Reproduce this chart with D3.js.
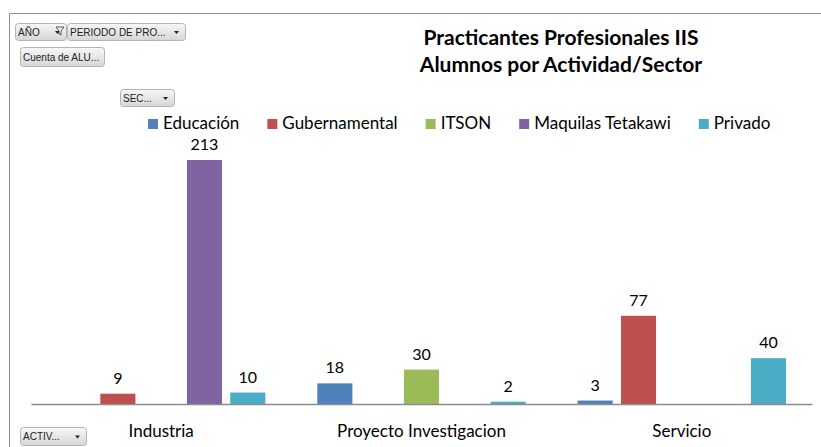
<!DOCTYPE html>
<html>
<head>
<meta charset="utf-8">
<script src="https://cdn.jsdelivr.net/npm/d3@7"></script>
<style>
  body { margin: 0; background: #fff; }
  svg { display: block; }
  .btn text { font-family: "Liberation Sans Narrow", "Liberation Sans", sans-serif; font-size: 10px; fill: #222; }
</style>
</head>
<body>
<svg id="canvas" width="821" height="447"></svg>
<script>
const categories = ["Industria", "Proyecto Investigacion", "Servicio"];
const sectors = ["Educación", "Gubernamental", "ITSON", "Maquilas Tetakawi", "Privado"];
const colors = ["#4F81BD", "#C0504D", "#9BBB59", "#8064A2", "#4BACC6"];

// values per sector, one per category (null = no bar)
const educacion = [null, 18, 3];
const gubernamental = [9, null, 77];
const itson = [null, 30, null];
const maquilas = [213, null, null];
const privado = [10, 2, 40];

const titleLines = ["Practicantes Profesionales IIS", "Alumnos por Actividad/Sector"];

const series = [educacion, gubernamental, itson, maquilas, privado];

const svg = d3.select("#canvas");

// frame
svg.append("path")
    .attr("d", "M9.5,447 V13.5 H821")
    .attr("fill", "none")
    .attr("stroke", "#8c8c8c")
    .attr("stroke-width", 1);

const x0 = d3.scaleBand().domain(categories).range([31, 812]);
const x1 = d3.scaleBand().domain(sectors).range([0, x0.bandwidth()])
    .paddingInner(0.19).paddingOuter(0.6);
const y = d3.scaleLinear().domain([0, 213]).range([404, 160]);

// bars
const bars = [];
series.forEach((vals, s) => vals.forEach((v, c) => {
    if (v !== null) bars.push({ sector: sectors[s], cat: categories[c], value: v, color: colors[s] });
}));

svg.append("g").selectAll("rect")
    .data(bars)
    .enter()
    .append("rect")
    .attr("x", (d) => x0(d.cat) + x1(d.sector))
    .attr("y", (d) => y(d.value))
    .attr("width", x1.bandwidth())
    .attr("height", (d) => y(0) - y(d.value))
    .attr("fill", (d) => d.color);

svg.append("g").selectAll("text")
    .data(bars)
    .enter()
    .append("text")
    .attr("x", (d) => x0(d.cat) + x1(d.sector) + x1.bandwidth() / 2)
    .attr("y", (d) => y(d.value) - 10)
    .attr("text-anchor", "middle")
    .attr("font-family", "Lato, sans-serif")
    .attr("font-size", 16)
    .attr("fill", "#000")
    .text((d) => d.value);

// x axis
const xAxis = svg.append("g")
    .attr("transform", `translate(0,${y(0)})`)
    .call(d3.axisBottom(x0).tickSize(0).tickPadding(21));
xAxis.select(".domain").attr("stroke", "#8c8c8c").attr("stroke-width", 1.5);
xAxis.selectAll("text")
    .attr("font-family", "Lato, sans-serif")
    .attr("font-size", 17)
    .attr("fill", "#000");

// title
svg.append("text")
    .attr("x", 561)
    .attr("y", 45)
    .attr("text-anchor", "middle")
    .attr("font-family", "Lato, sans-serif")
    .attr("font-weight", "bold")
    .attr("font-size", 21)
    .selectAll("tspan")
    .data(titleLines)
    .enter()
    .append("tspan")
    .attr("x", 561)
    .attr("dy", (d, i) => i === 0 ? 0 : 27)
    .text((d) => d);

// legend
const legend = svg.append("g").attr("transform", "translate(148,129)");
let lx = 0;
sectors.forEach((s, i) => {
    const g = legend.append("g").attr("transform", `translate(${lx},0)`);
    g.append("rect").attr("x", 0).attr("y", -10).attr("width", 10).attr("height", 10).attr("fill", colors[i]);
    const t = g.append("text")
        .attr("x", 15)
        .attr("font-family", "Lato, sans-serif")
        .attr("font-size", 17)
        .text(s);
    lx += 15 + t.node().getComputedTextLength() + 28;
});

// pivot field buttons
const grad = svg.append("defs").append("linearGradient")
    .attr("id", "btnGrad").attr("x1", 0).attr("y1", 0).attr("x2", 0).attr("y2", 1);
grad.append("stop").attr("offset", "0%").attr("stop-color", "#f7f7f7");
grad.append("stop").attr("offset", "100%").attr("stop-color", "#d6d6d6");

const buttons = [
    { label: "AÑO", x: 15, y: 23, w: 52, h: 18, arrow: true, filter: true },
    { label: "PERIODO DE PRO...", x: 67, y: 23, w: 119, h: 18, arrow: true },
    { label: "Cuenta de ALU...", x: 20, y: 47, w: 85, h: 20, arrow: false },
    { label: "SEC...", x: 120, y: 89, w: 55, h: 18, arrow: true },
    { label: "ACTIV...", x: 20, y: 427, w: 67, h: 19, arrow: true }
];

const btn = svg.append("g").selectAll("g")
    .data(buttons)
    .enter()
    .append("g")
    .attr("class", "btn")
    .attr("transform", (d) => `translate(${d.x},${d.y})`);
btn.append("rect")
    .attr("x", 0.5).attr("y", 0.5)
    .attr("width", (d) => d.w - 1).attr("height", (d) => d.h - 1)
    .attr("rx", 3)
    .attr("fill", "url(#btnGrad)")
    .attr("stroke", "#b4b4b4");
btn.append("text")
    .attr("x", 3)
    .attr("y", (d) => d.h / 2 + 3.5)
    .text((d) => d.label);
btn.filter((d) => d.arrow).append("path")
    .attr("d", (d) => `M${d.w - 12},${d.h / 2 - 1} h5 l-2.5,3 z`)
    .attr("fill", "#222");
btn.filter((d) => d.filter).append("path")
    .attr("d", (d) => `M${d.w - 11},${d.h / 2 - 5} h8 l-3,4 v4 l-2,-1 v-3 z`)
    .attr("fill", "#eee")
    .attr("stroke", "#333")
    .attr("stroke-width", 0.8);
</script>
</body>
</html>
